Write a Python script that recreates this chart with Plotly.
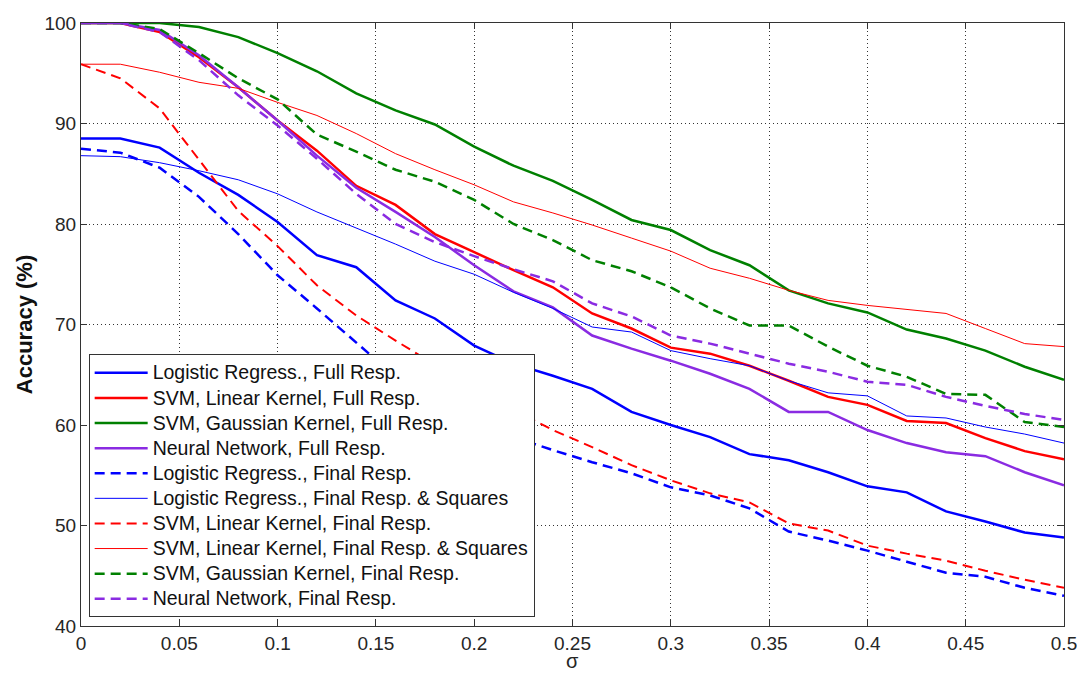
import plotly.graph_objects as go

sigma = [0.00, 0.02, 0.04, 0.06, 0.08, 0.10, 0.12, 0.14, 0.16, 0.18, 0.20, 0.22, 0.24,
         0.26, 0.28, 0.30, 0.32, 0.34, 0.36, 0.38, 0.40, 0.42, 0.44, 0.46, 0.48, 0.50]

lr_full = [88.5, 88.5, 87.6, 85.1, 82.9, 80.2, 76.9, 75.7, 72.4, 70.6, 67.9, 66.1, 64.9,
           63.6, 61.3, 60.0, 58.8, 57.1, 56.5, 55.3, 53.9, 53.3, 51.4, 50.4, 49.3, 48.8]
svm_lin_full = [100, 100, 99.1, 96.6, 93.6, 90.3, 87.3, 83.8, 81.9, 79.0, 77.2, 75.4, 73.7,
                71.1, 69.6, 67.7, 67.1, 65.9, 64.4, 62.8, 62.0, 60.4, 60.2, 58.7, 57.4, 56.6]
svm_gauss_full = [100, 100, 100, 99.6, 98.6, 97.0, 95.2, 93.0, 91.3, 89.9, 87.7, 85.8, 84.3,
                  82.4, 80.4, 79.4, 77.4, 75.9, 73.4, 72.1, 71.2, 69.5, 68.6, 67.4, 65.8, 64.5]
nn_full = [100, 100, 99.3, 96.8, 93.6, 90.3, 86.8, 83.6, 81.2, 78.7, 75.9, 73.3, 71.7,
           68.9, 67.6, 66.4, 65.1, 63.6, 61.3, 61.3, 59.5, 58.2, 57.3, 56.9, 55.3, 54.0]
lr_final = [87.5, 87.1, 85.6, 82.7, 79.0, 74.9, 71.6, 68.2, 64.8, 62.2, 60.2, 58.8, 57.5,
            56.3, 55.2, 53.8, 53.0, 51.7, 49.4, 48.5, 47.5, 46.4, 45.3, 44.9, 43.8, 43.0]
lr_final_sq = [86.8, 86.7, 86.1, 85.3, 84.4, 83.0, 81.2, 79.6, 78.0, 76.3, 75.0, 73.2, 71.6,
               69.75, 69.25, 67.4, 66.6, 65.9, 64.4, 63.2, 62.9, 60.9, 60.7, 59.8, 59.1, 58.2]
svm_lin_final = [95.9, 94.5, 91.5, 86.4, 81.3, 77.8, 73.9, 70.9, 68.4, 66.0, 63.7, 61.5, 59.5,
                 57.8, 56.0, 54.5, 53.2, 52.3, 50.2, 49.5, 48.0, 47.2, 46.5, 45.5, 44.6, 43.8]
svm_lin_final_sq = [95.9, 95.9, 95.1, 94.1, 93.5, 92.1, 90.8, 89.0, 87.0, 85.4, 83.9, 82.2, 81.1,
                    79.9, 78.6, 77.3, 75.6, 74.6, 73.4, 72.4, 71.9, 71.5, 71.1, 69.6, 68.1, 67.8]
svm_gauss_final = [100, 100, 99.4, 97.0, 94.5, 92.4, 88.9, 87.2, 85.4, 84.2, 82.4, 80.0, 78.4,
                   76.4, 75.3, 73.7, 71.6, 69.9, 69.9, 67.8, 65.9, 64.8, 63.1, 63.0, 60.3, 59.8]
nn_final = [100, 100, 99.1, 96.3, 92.8, 89.8, 86.5, 83.0, 80.0, 78.2, 76.8, 75.5, 74.3,
            72.1, 70.8, 68.9, 68.1, 67.1, 66.1, 65.3, 64.3, 64.0, 62.8, 61.9, 61.1, 60.5]

x_ticks = [0, 0.05, 0.1, 0.15, 0.2, 0.25, 0.3, 0.35, 0.4, 0.45, 0.5]
x_labels = ["0", "0.05", "0.1", "0.15", "0.2", "0.25", "0.3", "0.35", "0.4", "0.45", "0.5"]
y_ticks = [40, 50, 60, 70, 80, 90, 100]

BLUE, RED, GREEN, PURPLE = "#0000FF", "#FF0000", "#008000", "#8A2BE2"
DASH = "10px,6px"

series = [
    ("Logistic Regress., Full Resp.", lr_full, BLUE, 2.5, "solid"),
    ("SVM, Linear Kernel, Full Resp.", svm_lin_full, RED, 2.5, "solid"),
    ("SVM, Gaussian Kernel, Full Resp.", svm_gauss_full, GREEN, 2.5, "solid"),
    ("Neural Network, Full Resp.", nn_full, PURPLE, 2.5, "solid"),
    ("Logistic Regress., Final Resp.", lr_final, BLUE, 2.5, DASH),
    ("Logistic Regress., Final Resp. & Squares", lr_final_sq, BLUE, 1, "solid"),
    ("SVM, Linear Kernel, Final Resp.", svm_lin_final, RED, 2, DASH),
    ("SVM, Linear Kernel, Final Resp. & Squares", svm_lin_final_sq, RED, 1, "solid"),
    ("SVM, Gaussian Kernel, Final Resp.", svm_gauss_final, GREEN, 2.5, DASH),
    ("Neural Network, Final Resp.", nn_final, PURPLE, 2.5, DASH),
]

fig = go.Figure()
for name, vals, color, width, dash in series:
    label = '<span style="font-size:19.5px">' + name.replace("&", "&amp;") + "</span>"
    fig.add_trace(go.Scatter(x=sigma, y=vals, mode="lines", name=label,
                             line=dict(color=color, width=width, dash=dash)))

FONT = "Liberation Sans, Arial, sans-serif"
axis_common = dict(
    showline=True, linecolor="#333333", linewidth=1, mirror="ticks",
    ticks="inside", ticklen=6, tickcolor="#333333",
    showgrid=True, gridcolor="#333333", gridwidth=1, griddash="1px,3px",
    zeroline=False, tickfont=dict(family=FONT, size=19, color="#262626"),
    ticklabeloverflow="allow",
)

fig.update_layout(
    width=1077, height=673,
    paper_bgcolor="white", plot_bgcolor="white",
    margin=dict(l=81, r=13, t=23, b=47, autoexpand=False),
    font=dict(family=FONT, size=17, color="#262626"),
    xaxis=dict(range=[0, 0.5], tickvals=x_ticks, ticktext=x_labels, **axis_common),
    yaxis=dict(range=[40, 100], tickvals=y_ticks,
               title=dict(text="<b>Accuracy (%)</b>", font=dict(family=FONT, size=22, color="#111111"), standoff=5),
               **axis_common),
    legend=dict(x=0.0078, y=0.4506, xanchor="left", yanchor="top",
                bgcolor="white", bordercolor="#333333", borderwidth=1,
                font=dict(family=FONT, size=17, color="#111111"),
                tracegroupgap=0, itemwidth=53),
    showlegend=True,
    annotations=[dict(text="σ", xref="paper", yref="paper", x=0.5, y=-0.0784,
                      xanchor="center", yanchor="bottom", showarrow=False,
                      height=20, valign="bottom", borderpad=0,
                      font=dict(family=FONT, size=20, color="#262626"))],
)

fig.write_html("out.html", config={"displayModeBar": False},
               post_script="document.body.style.margin='0';")
